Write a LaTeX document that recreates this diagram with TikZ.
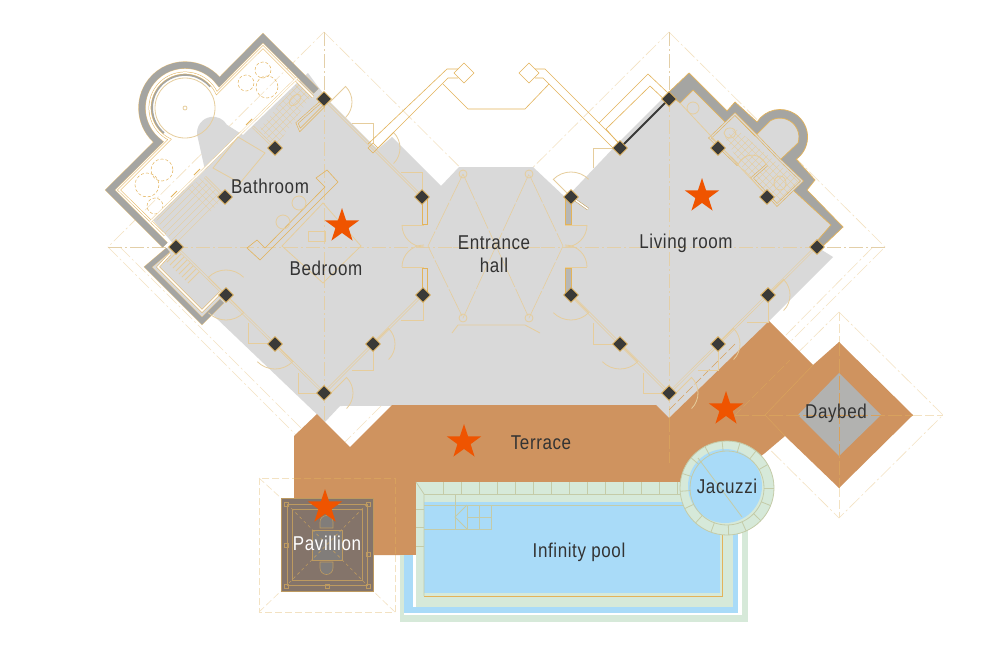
\documentclass[tikz,border=0pt]{standalone}
\usepackage{fontspec}
\setmainfont[FakeStretch=0.85,LetterSpace=3]{Liberation Sans}
\usetikzlibrary{shapes.geometric}
\definecolor{floorgrey}{HTML}{D9D9D9}
\definecolor{terrace}{HTML}{CF935F}
\definecolor{wallgrey}{HTML}{A5A5A2}
\definecolor{plan}{HTML}{E3B35A}
\definecolor{paleplan}{HTML}{E6CD9C}
\definecolor{guide}{HTML}{F3E2C2}
\definecolor{poolblue}{HTML}{A9DBF8}
\definecolor{poolgreen}{HTML}{D6E9D9}
\definecolor{poolline}{HTML}{C4CBA8}
\definecolor{starred}{HTML}{EF5400}
\definecolor{ink}{HTML}{333333}
\definecolor{pillar}{HTML}{3A3A38}
\definecolor{pavbrown}{HTML}{84746A}
\tikzset{
  planline/.style={draw=plan,line width=.8pt},
  paleline/.style={draw=paleplan,line width=.8pt},
  poolrule/.style={draw=poolline,line width=.8pt},
  twinline/.style={draw=plan,line width=.5pt,double=white,double distance=1.5pt},
  floortwin/.style={draw=paleplan,line width=.6pt,double=floorgrey,double distance=1.3pt},
  wallband/.style={draw=plan!80,line width=.4pt,double=wallgrey,double distance=6.5pt},
  guideline/.style={draw=guide,line width=.6pt,dash pattern=on 14pt off 3pt on 2pt off 3pt},
  tintline/.style={draw=plan!45!terrace,line width=.6pt,dash pattern=on 14pt off 3pt},
  label/.style={text=ink,font=\fontsize{20}{23}\selectfont,align=center,inner sep=0pt},
  pillarbox/.style={diamond,fill=pillar,draw=plan,line width=.8pt,minimum size=15pt,inner sep=0pt},
  hotspot/.style={star,star points=5,star point ratio=2.6,fill=starred,minimum size=36pt,inner sep=0pt},
  tiles/.style={draw=paleplan,line width=.35pt}
}
\newcommand{\tilegrid}[1]{%
  \begin{scope}
    \clip #1;
    \foreach \d in {0,7,...,700} {
      \draw[tiles] (\d,0) -- (\d+500,500);
      \draw[tiles] (\d+300,0) -- (\d-200,500);
    }
  \end{scope}}
\begin{document}
\begin{tikzpicture}[x=1pt,y=1pt,yscale=-1]
  \useasboundingbox (0,0) rectangle (1000,656);
  \fill[white] (0,0) rectangle (1000,656);

  \foreach \cx/\cy in {324/247,669/247} {
    \draw[guideline] (\cx,\cy-215) -- (\cx+216,\cy) -- (\cx,\cy+216) -- (\cx-216,\cy) -- cycle;
    \draw[guideline] (\cx-216,\cy) -- (\cx+216,\cy);
    \draw[guideline] (\cx,\cy-215) -- (\cx,\cy+216);
  }
  \draw[guideline] (120,247) -- (305,432);
  \draw[guideline] (873,247) -- (690,432);
  \draw[guideline] (839,312) -- (943,415) -- (839,518) -- (735,415) -- cycle;
  \draw[guideline,dash pattern=on 9pt off 3pt] (913,415) -- (943,415);
  \draw[guideline,dash pattern=on 9pt off 3pt] (839,312) -- (839,342);
  \draw[guideline,dash pattern=on 9pt off 3pt] (839,488) -- (839,518);
  \draw[guideline,dash pattern=on 7pt off 3pt] (259,478) rectangle (395,612);
  \draw[guideline,dash pattern=on 7pt off 3pt] (259,478) -- (281,498);
  \draw[guideline,dash pattern=on 7pt off 3pt] (395,478) -- (373,498);
  \draw[guideline,dash pattern=on 7pt off 3pt] (259,612) -- (281,591);
  \draw[guideline,dash pattern=on 7pt off 3pt] (395,612) -- (373,591);

  \fill[floorgrey] (308,73) -- (316,84) -- (330,102) -- (372,144) -- (378,149) -- (392,137)
    -- (441,186) -- (459,167) -- (533,167) -- (566,198) -- (620,141) -- (661,100)
    -- (689,80) -- (727,118) -- (735,110) -- (757,130)
    arc[start angle=200,end angle=414,radius=25] -- (810,180) -- (805,190) -- (838,227)
    -- (817,247) -- (833,257) -- (769,321)
    -- (669,418) -- (656,405) -- (340,406) -- (325,422) -- (213,315) -- (202,321)
    -- (148,267) -- (168,247) -- (176,247) -- (153,220) -- (205,170) -- (197.2,135)
    arc[start angle=172,end angle=330,radius=16] -- (243,135) -- (297,83) -- cycle;
  \foreach \cx in {324,669} {
    \draw[guideline,draw=paleplan!80!floorgrey] (\cx,32) -- (\cx,463);
    \draw[guideline,draw=paleplan!80!floorgrey] (\cx-216,247) -- (\cx+216,247);
  }

  \fill[terrace] (294,436) -- (317,414) -- (325,422) -- (350,447) -- (392,405) -- (656,405)
    -- (669,418) -- (769,321) -- (813,365) -- (839,342) -- (913,415) -- (839,488)
    -- (785,436) -- (765,453) -- (727,482) -- (416,482) -- (416,555) -- (373,555)
    -- (373,498) -- (294,498) -- cycle;
  \fill[wallgrey!85!white] (839,373) -- (881,415) -- (839,456) -- (798,415) -- cycle;
  \draw[draw=plan!50!terrace,line width=.5pt] (813,365) -- (765,415) -- (785,436);
  \draw[tintline] (735,415) -- (913,415);
  \draw[tintline] (839,342) -- (839,488);
  \draw[tintline] (669,418) -- (669,463);
  \draw[tintline,dash pattern=on 7pt off 3pt] (294,478) -- (395,478) -- (395,555);
  \draw[tintline,dash pattern=on 9pt off 3pt] (735,344) -- (669,410);
  \draw[tintline,dash pattern=on 9pt off 3pt] (735,415) -- (790,360);

  \fill[poolgreen] (400,555) rectangle (748,622);
  \fill[poolgreen] (733,525) rectangle (748,622);
  \fill[white] (404,555) rectangle (742,615);
  \fill[white] (733,525) rectangle (742,615);
  \fill[poolblue] (404,555) rectangle (738,613);
  \fill[poolblue] (733,525) rectangle (738,613);
  \fill[white] (413,555) rectangle (416,607);
  \fill[poolgreen] (416,482) rectangle (733,607);
  \fill[poolblue] (424,502) rectangle (720,593);
  \draw[planline] (424,596) -- (722,596) -- (722,520);
  \draw[poolrule] (424,505) -- (722,505);
  \draw[poolrule] (416,482) -- (424,494) -- (424,596);
  \draw[poolrule] (424,494) -- (690,494);
  \foreach \tx in {443,461,479,497,...,695}
    \draw[poolrule] (\tx,482) -- (\tx,494);
  \foreach \ty in {509,527,546}
    \draw[poolrule] (416,\ty) -- (424,\ty);
  \draw[poolrule] (467,505) rectangle (491,529);
  \draw[poolrule] (479,505) -- (479,529);
  \draw[poolrule] (467,517) -- (491,517);
  \draw[poolrule] (467,505) -- (455,517) -- (467,529);
  \draw[poolrule] (455,494) -- (455,529);
  \draw[poolrule] (424,529) -- (467,529);

  \fill[poolgreen] (727,488) circle[radius=47];
  \fill[poolblue] (725,486) circle[radius=37];
  \draw[poolrule] (727,488) circle[radius=47];
  \draw[poolrule] (727,488) circle[radius=37];
  \foreach \ang in {0,22,...,350}
    \draw[poolrule] (727,488) ++(\ang:37) -- ++(\ang:10);
  \draw[poolrule] (698,458) -- (742,517);

  \tilegrid{(297,83) -- (312,95) -- (275,148) -- (260,128) -- cycle}
  \tilegrid{(155,218) -- (200,178) -- (225,197) -- (176,246) -- cycle}
  \tilegrid{(725,138) -- (735,128) -- (800,182) -- (777,205) -- (745,172) -- cycle}

  \draw[wallband] (165,245) -- (110,190) -- (158.5,141.9)
    arc[start angle=128,end angle=323,radius=43] -- (263,38) -- (316,91);
  \draw[wallband,double distance=5pt] (168,250) -- (148,267) -- (202,321) -- (222,301);
  \draw[wallgrey,line width=3pt] (163.5,133.5) arc[start angle=130,end angle=320,radius=33.5];
  \draw[twinline] (165,235) -- (119,190) -- (169.6,139.4)
    arc[start angle=116,end angle=335,radius=35] -- (263,47) -- (313,97);
  \draw[twinline] (170,254) -- (158,267) -- (202,311) -- (222,291);
  \draw[paleline] (185,108) circle[radius=30];
  \draw[paleline] (185,108) circle[radius=2];
  \foreach \cx/\cy/\rad in {263/70/8,267/87/11,246/83/8,162/170/11,147/185/12,155/206/8}
    \draw[planline,line width=.5pt,densely dashed] (\cx,\cy) circle[radius=\rad];
  \draw[twinline,draw=plan!70,line width=.4pt] (150,222) -- (297,78);
  \foreach \cx/\cy in {197/172,174/194,249/122}
    \draw[planline,fill=plan!40] (\cx-3,\cy+3) -- (\cx+3,\cy-3);
  \draw[floortwin] (275,148) -- (253,127);
  \draw[floortwin] (225,197) -- (205,177);
  \draw[floortwin,draw=plan] (324,99) -- (297,123) -- (300,130) -- (324,106);
  \draw[paleline] (238,137) -- (265,153) -- (240,183) -- (213,168) -- cycle;
  \draw[paleline] (295,100) ellipse[x radius=4,y radius=7,rotate=45];
  \foreach \n in {0,...,7}
    \draw[paleline] (167+3*\n,262+3*\n) -- ++(12,-12);

  \draw[fill=wallgrey,even odd rule,draw=plan,line width=.7pt]
    (668,93) -- (689,73) -- (727,111) -- (735,102) -- (757,122)
    arc[start angle=213,end angle=414,radius=27.5] -- (815,180) -- (807,190) -- (843,227)
    -- (822,247) -- (817,241) -- (831,225) -- (793,190) -- (802,180) -- (780,160) -- (798,143)
    arc[start angle=18,end angle=-120,radius=19] -- (755,136) -- (735,115) -- (726,123)
    -- (693,90) -- (680,103) -- cycle;
  \draw[floortwin,draw=plan] (738,165) -- (710,138) -- (735,114) -- (757,136) -- (780,160) -- (802,181)
    -- (777,205) -- (752,178) -- (767,165);
  \draw[paleline] (738,165) arc[start angle=200,end angle=340,radius=15];
  \draw[paleline] (693,108) circle[radius=6];
  \draw[paleline] (680,103) -- (768,197);
  \draw[paleline] (780,183) ellipse[x radius=6,y radius=7];
  \draw[paleline] (730,133) ellipse[x radius=6,y radius=5];

  \fill[wallgrey!80!white] (565,197) rectangle (571,224);
  \fill[wallgrey!80!white] (565,268) rectangle (571,295);
  \draw[planline] (565,197) rectangle (571,224);
  \draw[planline] (565,268) rectangle (571,295);
  \draw[planline] (422,198) rectangle (427,224);
  \draw[planline] (422,268) rectangle (427,295);
  \draw[line width=2pt,pillar] (620,148) -- (669,99);
  \draw[twinline,draw=plan!80!pillar] (571,197) -- (588,209);
  \draw[floortwin] (176,247) -- (324,393) -- (422,295);
  \draw[floortwin] (571,295) -- (669,393) -- (817,246);
  \draw[floortwin] (324,99) -- (422,197);
  \foreach \ax/\ay/\bx/\by/\ex/\ey in {248/323/248/343/273/343,298/373/298/393/323/393,
      373/345/373/370/352/370,423/295/423/320/401/320,593/323/593/344/620/344,
      643/373/643/393/668/393,698/370/718/370/718/344,747/322/768/322/768/295,
      401/172/422/172/422/193,593/168/593/148/613/148,352/123/373/123/373/143}
    \draw[paleline] (\ax,\ay) -- (\bx,\by) -- (\ex,\ey);
  \foreach \cx/\cy/\ang/\rad in {330/102/-45/22,226/295/225/25,226/295/45/25,275/344/45/25,
      373/344/-45/22,331/393/-45/22,378/148/-45/22,571/197/225/25,571/295/45/25,620/344/45/25,
      676/393/-45/22,718/344/-45/22,768/295/-45/22}
    \draw[paleline] (\cx,\cy) -- ++(\ang:\rad) arc[start angle=\ang,delta angle=90,radius=\rad];
  \foreach \cx/\cy/\ang in {424/225/90,424/267/180,565/225/0,565/267/270}
    \draw[paleline] (\cx,\cy) ++(\ang:22) arc[start angle=\ang,delta angle=90,radius=22];
  \foreach \cy in {225,267} {
    \draw[paleline] (402,\cy) -- (424,\cy);
    \draw[paleline] (565,\cy) -- (587,\cy);
  }

  \draw[guideline,draw=paleplan,dash pattern=on 30pt off 2pt] (463,174) -- (428,246) -- (463,318) -- (529,174) -- (563,246) -- (529,318) -- (463,174);
  \foreach \cx/\cy in {463/174,529/174,463/318,529/318}
    \draw[paleline] (\cx,\cy) circle[radius=4];
  \draw[paleline] (452,333) -- (458,325) -- (525,325) -- (540,333);

  \draw[planline,line width=.6pt] (327,170) -- (338,182) -- (260,260) -- (247,248) -- (257,240) -- (265,248) -- (325,187) -- (316,178) -- cycle;
  \draw[paleline] (323,203) -- (361,246) -- (323,283) -- (282,246) -- cycle;
  \draw[paleline] (308,231) rectangle (325,241);
  \draw[paleline] (283,222) circle[radius=7];
  \draw[paleline] (299,203) circle[radius=7];

  \draw[planline,line width=.6pt] (368,144) -- (447,69) -- (458,69);
  \draw[planline,line width=.6pt] (378,148) -- (448,78) -- (458,78);
  \draw[planline,line width=.6pt] (443,84) -- (468,109) -- (525,109) -- (549,84);
  \draw[planline,line width=.6pt] (535,69) -- (545,69) -- (620,144);
  \draw[planline,line width=.6pt] (535,78) -- (543,78) -- (615,150);
  \draw[planline,line width=.6pt] (599,123) -- (648,74) -- (668,93);
  \draw[planline,line width=.6pt] (620,145) -- (606,129) -- (650,86) -- (668,103);
  \foreach \cx/\cy/\rad in {464/73/10,529/73/10,373/148/5}
    \draw[planline,line width=.6pt] (\cx,\cy-\rad) -- (\cx+\rad,\cy) -- (\cx,\cy+\rad) -- (\cx-\rad,\cy) -- cycle;

  \fill[pavbrown] (281,498) rectangle (373,591);
  \draw[draw=plan!60!pavbrown,line width=.8pt] (281,498) rectangle (373,591);
  \draw[draw=plan!60!pavbrown,line width=.5pt] (287,504) rectangle (367,585);
  \draw[draw=plan!60!pavbrown,line width=.5pt] (292,509) rectangle (362,580);
  \fill[gray!75!pavbrown] (312,530) rectangle (342,560);
  \draw[draw=plan!60!pavbrown,line width=.7pt] (312,530) rectangle (342,560);
  \draw[draw=plan!60!pavbrown,line width=.6pt,dashed] (287,504) -- (367,585);
  \draw[draw=plan!60!pavbrown,line width=.6pt,dashed] (367,504) -- (287,585);
  \foreach \cx/\cy in {286/504,368/504,286/586,368/586,327/586,286/545,368/554}
    \draw[draw=plan!60!pavbrown,line width=.5pt] (\cx-2,\cy-2) rectangle (\cx+2,\cy+2);
  \draw[draw=plan!60!pavbrown,fill=gray!75!pavbrown,line width=.6pt] (320,528) -- (320,522) arc[start angle=180,end angle=360,radius=6.5] -- (333,528) -- cycle;
  \draw[draw=plan!60!pavbrown,fill=gray!75!pavbrown,line width=.6pt] (320,562) -- (320,568) arc[start angle=180,end angle=0,radius=6.5] -- (333,562) -- cycle;

  \foreach \name/\x/\y in {a/324/99,b/275/148,c/225/197,d/176/247,e/226/295,f/275/344,
      g/324/393,h/373/344,i/423/295,j/422/197,k/571/197,l/620/148,m/669/99,n/718/148,
      o/767/197,p/817/247,q/768/295,r/718/344,s/669/393,t/620/344,u/571/295}
    \node[pillarbox] (\name) at (\x,\y) {};

  \node[hotspot] (star1) at (342,226) {};
  \node[hotspot] (star2) at (702,196) {};
  \node[hotspot] (star3) at (464,442) {};
  \node[hotspot] (star4) at (726,409) {};
  \node[hotspot] (star5) at (325,507) {};

  \node[label] (bath) at (270,186) {Bathroom};
  \node[label] (bed) at (326,268) {Bedroom};
  \node[label] (hall) at (494,254) {Entrance\\hall};
  \node[label] (living) at (686,243) {Living room};
  \node[label] (terr) at (541,443) {Terrace};
  \node[label] (jac) at (727,486) {Jacuzzi};
  \node[label] (day) at (836,413) {Daybed};
  \node[label] (pool) at (579,552) {Infinity pool};
  \node[label,text=white] (pav) at (327,543) {Pavillion};
\end{tikzpicture}
\end{document}
